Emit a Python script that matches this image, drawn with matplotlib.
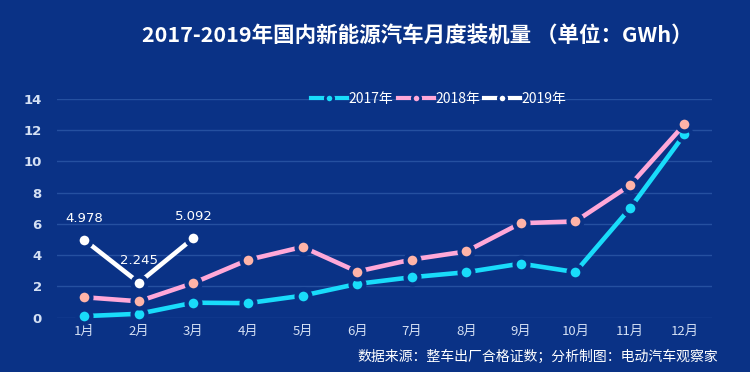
import matplotlib
matplotlib.use('Agg')
import matplotlib.pyplot as plt
from matplotlib.lines import Line2D

plt.rcParams['font.family'] = ['Noto Sans CJK SC', 'DejaVu Sans']

months = ['1月', '2月', '3月', '4月', '5月', '6月', '7月', '8月', '9月', '10月', '11月', '12月']
y2017 = [0.10, 0.25, 0.96, 0.93, 1.41, 2.16, 2.59, 2.91, 3.46, 2.92, 6.99, 11.73]
y2018 = [1.31, 1.05, 2.22, 3.70, 4.53, 2.95, 3.72, 4.24, 6.05, 6.16, 8.47, 12.37]
y2019 = [4.978, 2.245, 5.092]
yticks = [0, 2, 4, 6, 8, 10, 12, 14]

BG = '#0a3286'
GRID = '#2550a0'
C17 = '#19dcfa'
C18 = '#ffa8d8'
C18_MARK = '#ffb4a8'
C19 = '#ffffff'
TICK = '#d4e0f4'

fig = plt.figure(figsize=(7.5, 3.72), dpi=100, facecolor=BG)
ax = fig.add_axes([0.076, 0.146, 0.873, 0.588], facecolor=BG)

x = list(range(len(months)))

def draw(xs, ys, color, mcolor, z):
    ax.plot(xs, ys, color=color, lw=3.3, solid_capstyle='butt', zorder=z, clip_on=False)
    ax.plot(xs, ys, ls='none', marker='o', ms=10, markerfacecolor=mcolor,
            markeredgecolor=BG, markeredgewidth=3, zorder=z + 0.5, clip_on=False)

draw(x, y2017, C17, C17, 3)
draw(x, y2018, C18, C18_MARK, 4)
draw(x[:3], y2019, C19, C19, 5)

for xi, yi in zip(x[:3], y2019):
    ax.annotate(f'{yi:.3f}', (xi, yi), xytext=(0, 11), textcoords='offset points',
                ha='center', va='bottom', color='white', fontsize=9.5,
                family='DejaVu Sans')

ax.set_xlim(-0.5, 11.5)
ax.set_ylim(0, 14)
ax.set_yticks(yticks)
ax.set_xticks(x)
ax.set_xticklabels(months)
ax.tick_params(axis='both', length=0, colors=TICK, labelsize=9.5)
ax.tick_params(axis='y', pad=11)
ax.tick_params(axis='x', pad=5)
for lab in ax.get_yticklabels():
    lab.set_fontweight('bold')
    lab.set_family('DejaVu Sans')
ax.grid(axis='y', color=GRID, lw=1)
ax.set_axisbelow(True)
for s in ax.spines.values():
    s.set_visible(False)

handles = [
    Line2D([], [], color=C17, lw=3, marker='o', ms=6, markeredgecolor=BG, markeredgewidth=2),
    Line2D([], [], color=C18, lw=3, marker='o', ms=6, markeredgecolor=BG, markeredgewidth=2),
    Line2D([], [], color=C19, lw=3, marker='o', ms=6, markeredgecolor=BG, markeredgewidth=2),
]
leg = fig.legend(handles, ['2017年', '2018年', '2019年'], loc='center',
                 bbox_to_anchor=(0.585, 0.735), ncol=3, frameon=False,
                 handlelength=2.6, handletextpad=0.1, columnspacing=0.3, fontsize=10)
for t in leg.get_texts():
    t.set_color('white')

fig.text(0.556, 0.905, '2017-2019年国内新能源汽车月度装机量 （单位：GWh）', ha='center', va='center',
         color='white', fontsize=15.5, fontweight='bold')
fig.text(0.957, 0.04, '数据来源：整车出厂合格证数；分析制图：电动汽车观察家', ha='right', va='center',
         color='white', fontsize=10)

fig.savefig('out.png', dpi=100, facecolor=BG)
